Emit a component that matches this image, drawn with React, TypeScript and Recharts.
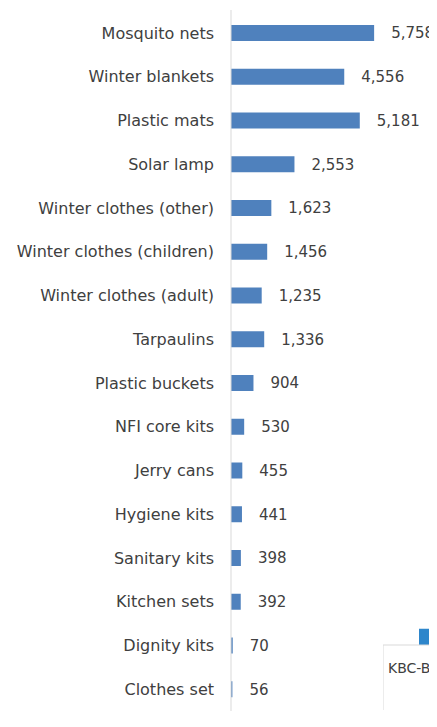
import { BarChart, Bar, XAxis, YAxis, LabelList } from "recharts";

const items = [
  "Mosquito nets",
  "Winter blankets",
  "Plastic mats",
  "Solar lamp",
  "Winter clothes (other)",
  "Winter clothes (children)",
  "Winter clothes (adult)",
  "Tarpaulins",
  "Plastic buckets",
  "NFI core kits",
  "Jerry cans",
  "Hygiene kits",
  "Sanitary kits",
  "Kitchen sets",
  "Dignity kits",
  "Clothes set",
];
const quantities = [
  5758, 4556, 5181, 2553, 1623, 1456, 1235, 1336, 904, 530, 455, 441, 398, 392,
  70, 56,
];

// neighbouring chart, cut off at the right edge of the picture
const sideCategories = ["KBC-B"];
const sideValues = [120];

const FONT = "'DejaVu Sans', sans-serif";
const TEXT = "#404040";

const data = items.map((name, i) => ({ name, value: quantities[i] }));
const sideData = sideCategories.map((name, i) => ({ name, value: sideValues[i] }));

const fmt = (v: number) => v.toLocaleString("en-US");

// boxed category label like the Excel multi-level axis
const BoxTick = (props: any) => {
  const { x, y, payload } = props;
  const left = x - 63;
  return (
    <g>
      <line x1={left} y1={y} x2={left} y2={y + 65} stroke="#d9d9d9" />
      <text x={left + 5} y={y + 28} fill={TEXT} fontSize={14} fontFamily={FONT}>
        {payload.value}
      </text>
    </g>
  );
};

const App = () => {
  return (
    <div
      style={{
        position: "relative",
        width: 429,
        height: 719,
        marginBottom: -16,
        overflow: "hidden",
      }}
    >
      <BarChart
        width={429}
        height={719}
        data={data}
        layout="vertical"
        margin={{ top: 2, right: 32, left: 0, bottom: 0 }}
      >
        <XAxis type="number" domain={[0, 7000]} hide />
        <YAxis
          type="category"
          dataKey="name"
          width={223}
          padding={{ top: 1, bottom: 16 }}
          axisLine={{ stroke: "#d9d9d9" }}
          tickLine={false}
          tickSize={0}
          tickMargin={17}
          interval={0}
          tick={{ fill: TEXT, fontSize: 16, fontFamily: FONT }}
        />
        <Bar dataKey="value" fill="#4F81BD" barSize={16} isAnimationActive={false}>
          <LabelList
            dataKey="value"
            position="right"
            offset={17}
            formatter={fmt}
            fill={TEXT}
            fontSize={15}
            fontFamily={FONT}
          />
        </Bar>
      </BarChart>

      <div style={{ position: "absolute", left: 375, top: 540 }}>
        <BarChart
          width={126}
          height={162}
          data={sideData}
          margin={{ top: 0, right: 0, left: 0, bottom: 0 }}
        >
          <XAxis
            dataKey="name"
            height={65}
            axisLine={{ stroke: "#d9d9d9" }}
            tickLine={false}
            tickSize={0}
            tickMargin={0}
            tick={<BoxTick />}
          />
          <YAxis domain={[0, 720]} hide />
          <Bar dataKey="value" fill="#2E86CB" barSize={54} isAnimationActive={false}>
            <LabelList
              dataKey="value"
              position="top"
              offset={9}
              fill={TEXT}
              fontSize={16}
              fontFamily={FONT}
            />
          </Bar>
        </BarChart>
      </div>
    </div>
  );
};

export default App;
